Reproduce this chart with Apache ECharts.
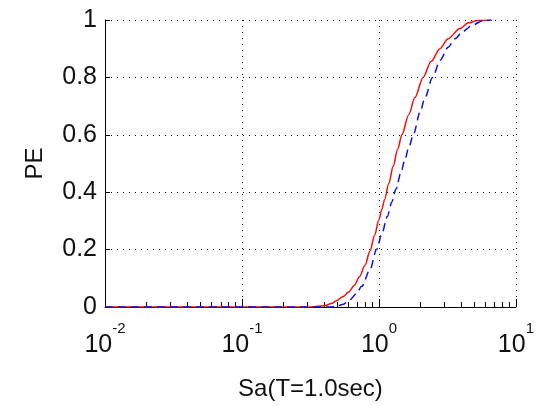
<!DOCTYPE html>
<html>
<head>
<meta charset="utf-8">
<script src="https://cdn.jsdelivr.net/npm/echarts@6/dist/echarts.min.js"></script>
<style>html,body{margin:0;padding:0;background:#fff}#c{width:537px;height:406px}</style>
</head>
<body>
<div id="c"></div>
<script>
// Data
const redX = [0.01, 0.1, 0.3, 0.4, 0.45, 0.49, 0.55, 0.6, 0.66, 0.72, 0.79, 0.86, 0.93, 1.0, 1.05, 1.1, 1.18, 1.27, 1.37, 1.47, 1.65, 1.83, 2.1, 2.4, 2.79, 3.2, 3.9, 4.5, 5.25, 6.46];
const redY = [0, 0, 0, 0.004, 0.012, 0.022, 0.037, 0.052, 0.075, 0.105, 0.145, 0.195, 0.25, 0.305, 0.34, 0.375, 0.43, 0.49, 0.55, 0.6, 0.67, 0.73, 0.8, 0.855, 0.9, 0.935, 0.97, 0.99, 0.998, 1.0];
const blueX = [0.01, 0.3, 0.45, 0.5, 0.55, 0.61, 0.68, 0.75, 0.86, 0.96, 1.05, 1.15, 1.24, 1.33, 1.45, 1.54, 1.65, 1.78, 2.0, 2.17, 2.46, 2.8, 3.2, 3.6, 4.1, 4.8, 5.7, 6.66];
const blueY = [0, 0, 0, 0.004, 0.01, 0.024, 0.045, 0.072, 0.13, 0.2, 0.255, 0.315, 0.365, 0.41, 0.47, 0.51, 0.555, 0.6, 0.68, 0.73, 0.8, 0.86, 0.905, 0.935, 0.96, 0.982, 0.997, 1.0];
const xMajorTicks = [0.01, 0.1, 1, 10];
const xTickExponents = ['-2', '-1', '0', '1'];
const xMinorTicks = [0.02,0.03,0.04,0.05,0.06,0.07,0.08,0.09,0.2,0.3,0.4,0.5,0.6,0.7,0.8,0.9,2,3,4,5,6,7,8,9];
const yTicks = [0, 0.2, 0.4, 0.6, 0.8, 1];
const yTickLabels = ['0', '0.2', '0.4', '0.6', '0.8', '1'];
const xTitle = 'Sa(T=1.0sec)';
const yTitle = 'PE';

const FONT = '"Liberation Sans", Arial, sans-serif';
const chart = echarts.init(document.getElementById('c'));
const zip = (xs, ys) => xs.map((x, i) => [x, ys[i]]);
const dotted = { color: '#000', width: 1, type: [1, 5] };

chart.setOption({
  backgroundColor: '#fff',
  animation: false,
  grid: { left: 105, right: 21, top: 20, bottom: 99 },
  xAxis: [{
    type: 'log', logBase: 10, min: 0.01, max: 10,
    name: xTitle, nameLocation: 'middle', nameGap: 70, nameMoveOverlap: false,
    nameTextStyle: { fontFamily: FONT, fontSize: 24, color: '#111' },
    axisLine: { show: true, onZero: false, lineStyle: { color: '#000', width: 1 } },
    axisTick: { show: true, inside: true, length: 8, lineStyle: { color: '#000' }, customValues: xMajorTicks },
    axisLabel: {
      margin: 14, customValues: xMajorTicks, fontFamily: FONT, color: '#111',
      formatter: function (v) {
        const i = xMajorTicks.findIndex(t => Math.abs(t - v) / t < 1e-6);
        return '{b|10}{s|' + xTickExponents[i] + '}';
      },
      rich: {
        b: { fontFamily: FONT, fontSize: 25, color: '#111', lineHeight: 37, verticalAlign: 'bottom' },
        s: { fontFamily: FONT, fontSize: 15, color: '#111', lineHeight: 15, verticalAlign: 'top' }
      }
    },
    splitLine: { show: true, lineStyle: dotted }
  }, {
    type: 'log', logBase: 10, min: 0.01, max: 10, position: 'bottom', gridIndex: 0,
    axisLine: { show: false },
    axisTick: { show: true, inside: true, length: 5, lineStyle: { color: '#000' }, customValues: xMinorTicks },
    axisLabel: { show: false },
    splitLine: { show: false }
  }],
  yAxis: {
    type: 'value', min: 0, max: 1, interval: 0.2,
    name: yTitle, nameLocation: 'middle', nameGap: 58, nameRotate: 90, nameMoveOverlap: false,
    nameTextStyle: { fontFamily: FONT, fontSize: 24, color: '#111' },
    axisLine: { show: true, lineStyle: { color: '#000', width: 1 } },
    axisTick: { show: true, inside: true, length: 5, lineStyle: { color: '#000' } },
    axisLabel: {
      margin: 8, fontFamily: FONT, fontSize: 25, color: '#111',
      formatter: function (v) {
        const i = yTicks.findIndex(t => Math.abs(t - v) < 1e-6);
        return i >= 0 ? yTickLabels[i] : '';
      }
    },
    splitLine: { show: true, lineStyle: dotted }
  },
  series: [{
    type: 'line', xAxisIndex: 0, data: zip(redX, redY), showSymbol: false, symbol: 'none',
    smooth: 0.3, smoothMonotone: 'x', lineStyle: { color: '#f01010', width: 1.5 }
  }, {
    type: 'line', xAxisIndex: 0, data: zip(blueX, blueY), showSymbol: false, symbol: 'none',
    smooth: 0.3, smoothMonotone: 'x', lineStyle: { color: '#1010e0', width: 1.5, type: [8, 5] }
  }]
});
</script>
</body>
</html>
